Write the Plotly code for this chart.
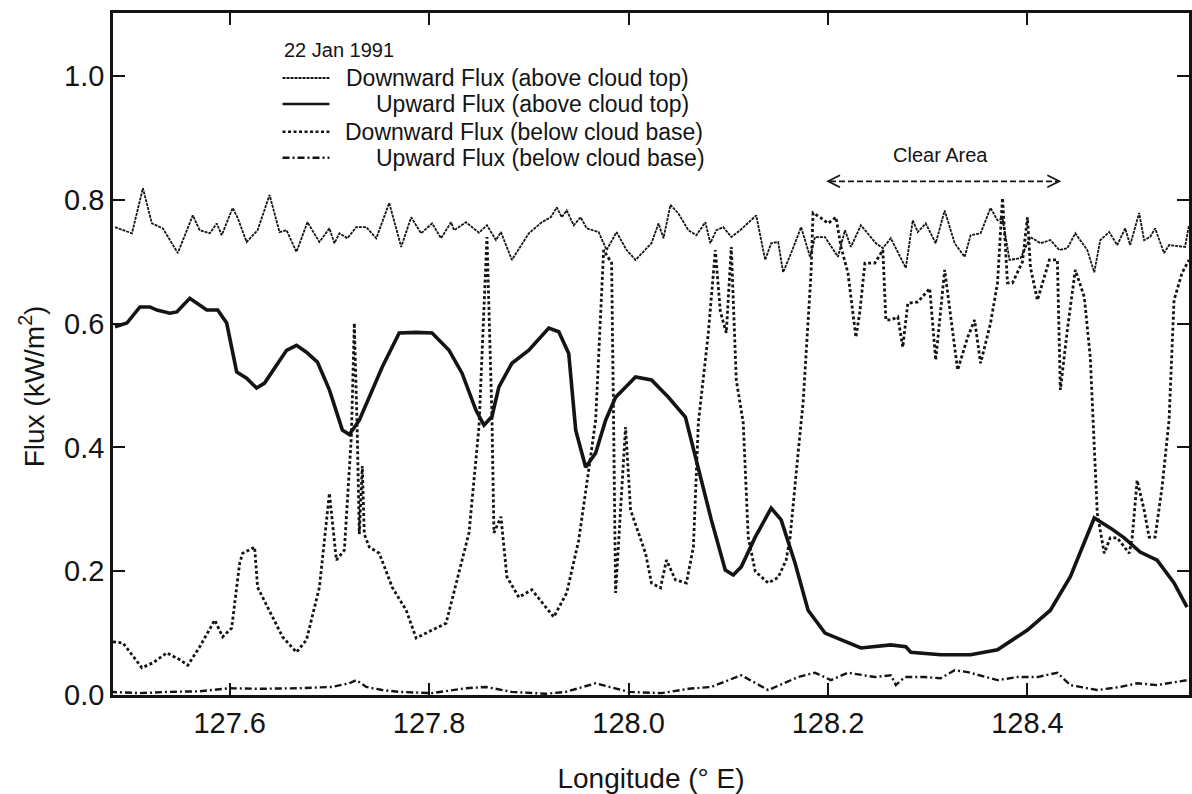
import plotly.graph_objects as go

# ---- data: longitude (deg E) and flux (kW/m^2) for each trace ----
down_above_lon = [127.485, 127.502, 127.513, 127.522, 127.533, 127.548, 127.563, 127.570, 127.580, 127.587,
                  127.592, 127.603, 127.608, 127.617, 127.628, 127.640, 127.650, 127.657, 127.667, 127.678,
                  127.690, 127.700, 127.705, 127.710, 127.718, 127.727, 127.737, 127.747, 127.760, 127.772,
                  127.782, 127.792, 127.803, 127.812, 127.822, 127.825, 127.837, 127.850, 127.858, 127.867,
                  127.872, 127.883, 127.900, 127.913, 127.922, 127.928, 127.933, 127.938, 127.945, 127.952,
                  127.958, 127.970, 127.978, 127.988, 127.998, 128.007, 128.023, 128.030, 128.035, 128.042,
                  128.050, 128.060, 128.068, 128.077, 128.082, 128.088, 128.095, 128.103, 128.112, 128.128,
                  128.137, 128.143, 128.150, 128.155, 128.163, 128.173, 128.182, 128.187, 128.197, 128.210,
                  128.217, 128.223, 128.233, 128.240, 128.248, 128.255, 128.263, 128.278, 128.285, 128.290,
                  128.298, 128.308, 128.317, 128.327, 128.337, 128.343, 128.353, 128.363, 128.370, 128.375,
                  128.382, 128.393, 128.403, 128.413, 128.423, 128.432, 128.440, 128.448, 128.460, 128.467,
                  128.473, 128.482, 128.490, 128.498, 128.503, 128.512, 128.517, 128.523, 128.528, 128.537,
                  128.542, 128.558, 128.562]
down_above_flux = [0.756, 0.746, 0.819, 0.762, 0.754, 0.714, 0.775, 0.751, 0.746, 0.762,
                   0.743, 0.787, 0.771, 0.732, 0.751, 0.808, 0.748, 0.751, 0.716, 0.764,
                   0.732, 0.754, 0.730, 0.746, 0.738, 0.756, 0.756, 0.738, 0.795, 0.724,
                   0.772, 0.746, 0.762, 0.738, 0.764, 0.751, 0.764, 0.747, 0.759, 0.735,
                   0.748, 0.703, 0.746, 0.764, 0.772, 0.788, 0.772, 0.783, 0.759, 0.772,
                   0.754, 0.748, 0.719, 0.748, 0.719, 0.703, 0.730, 0.762, 0.738, 0.792,
                   0.778, 0.751, 0.743, 0.764, 0.730, 0.751, 0.756, 0.740, 0.751, 0.775,
                   0.703, 0.730, 0.732, 0.683, 0.714, 0.756, 0.708, 0.740, 0.740, 0.708,
                   0.751, 0.724, 0.759, 0.746, 0.730, 0.722, 0.738, 0.690, 0.767, 0.748,
                   0.762, 0.730, 0.783, 0.730, 0.708, 0.743, 0.746, 0.787, 0.767, 0.770,
                   0.703, 0.706, 0.740, 0.730, 0.735, 0.719, 0.722, 0.746, 0.719, 0.683,
                   0.735, 0.748, 0.727, 0.754, 0.727, 0.779, 0.735, 0.740, 0.754, 0.714,
                   0.727, 0.724, 0.759]

up_above_lon = [127.485, 127.497, 127.510, 127.520, 127.527, 127.540, 127.547, 127.560, 127.577, 127.588,
                127.597, 127.607, 127.617, 127.627, 127.635, 127.657, 127.667, 127.677, 127.688, 127.700,
                127.713, 127.720, 127.730, 127.753, 127.770, 127.787, 127.803, 127.820, 127.833, 127.847,
                127.855, 127.863, 127.870, 127.883, 127.900, 127.920, 127.930, 127.940, 127.947, 127.957,
                127.967, 127.977, 127.987, 128.007, 128.023, 128.040, 128.057, 128.070, 128.083, 128.097,
                128.105, 128.113, 128.127, 128.143, 128.153, 128.167, 128.180, 128.197, 128.217, 128.233,
                128.263, 128.278, 128.283, 128.313, 128.343, 128.370, 128.400, 128.423, 128.443, 128.457,
                128.467, 128.483, 128.497, 128.513, 128.530, 128.547, 128.560]
up_above_flux = [0.595, 0.601, 0.627, 0.627, 0.622, 0.617, 0.619, 0.641, 0.622, 0.622,
                 0.601, 0.522, 0.512, 0.496, 0.504, 0.557, 0.565, 0.554, 0.538, 0.493,
                 0.428, 0.421, 0.444, 0.530, 0.585, 0.586, 0.585, 0.557, 0.520, 0.460,
                 0.436, 0.450, 0.498, 0.536, 0.557, 0.593, 0.587, 0.552, 0.428, 0.368,
                 0.391, 0.444, 0.481, 0.514, 0.509, 0.481, 0.449, 0.363, 0.283, 0.202,
                 0.194, 0.207, 0.255, 0.302, 0.283, 0.213, 0.137, 0.100, 0.086, 0.076,
                 0.081, 0.078, 0.069, 0.065, 0.065, 0.073, 0.105, 0.137, 0.191, 0.246,
                 0.286, 0.270, 0.254, 0.231, 0.218, 0.181, 0.142]

down_below_lon = [127.483, 127.493, 127.512, 127.523, 127.537, 127.550, 127.558, 127.570, 127.585, 127.593,
                  127.602, 127.610, 127.613, 127.625, 127.628, 127.643, 127.653, 127.667, 127.677, 127.690,
                  127.700, 127.707, 127.715, 127.722, 127.725, 127.728, 127.730, 127.733, 127.735, 127.740,
                  127.750, 127.763, 127.777, 127.787, 127.817, 127.840, 127.850, 127.858, 127.863, 127.865,
                  127.872, 127.878, 127.890, 127.903, 127.925, 127.938, 127.950, 127.960, 127.967, 127.975,
                  127.983, 127.985, 127.987, 127.992, 127.997, 128.002, 128.010, 128.017, 128.023, 128.032,
                  128.038, 128.047, 128.058, 128.065, 128.070, 128.080, 128.087, 128.092, 128.098, 128.103,
                  128.108, 128.115, 128.120, 128.127, 128.140, 128.150, 128.158, 128.162, 128.170, 128.175,
                  128.183, 128.185, 128.192, 128.200, 128.208, 128.213, 128.220, 128.228, 128.232, 128.237,
                  128.247, 128.255, 128.258, 128.263, 128.270, 128.275, 128.280, 128.290, 128.302, 128.308,
                  128.317, 128.330, 128.340, 128.347, 128.353, 128.363, 128.370, 128.375, 128.380, 128.385,
                  128.395, 128.400, 128.403, 128.410, 128.422, 128.430, 128.433, 128.440, 128.448, 128.457,
                  128.463, 128.467, 128.470, 128.477, 128.483, 128.490, 128.502, 128.505, 128.510, 128.517,
                  128.522, 128.528, 128.535, 128.542, 128.547, 128.555, 128.562]
down_below_flux = [0.086, 0.084, 0.044, 0.052, 0.068, 0.057, 0.048, 0.078, 0.121, 0.094,
                   0.108, 0.213, 0.229, 0.239, 0.174, 0.126, 0.094, 0.069, 0.089, 0.174,
                   0.326, 0.218, 0.234, 0.417, 0.601, 0.420, 0.260, 0.370, 0.260, 0.239,
                   0.229, 0.174, 0.137, 0.092, 0.116, 0.262, 0.433, 0.740, 0.450, 0.262,
                   0.288, 0.191, 0.158, 0.170, 0.126, 0.165, 0.250, 0.363, 0.444, 0.719,
                   0.698, 0.440, 0.165, 0.300, 0.433, 0.299, 0.262, 0.229, 0.181, 0.173,
                   0.218, 0.186, 0.181, 0.239, 0.440, 0.585, 0.719, 0.620, 0.585, 0.724,
                   0.509, 0.440, 0.255, 0.200, 0.181, 0.190, 0.218, 0.255, 0.391, 0.472,
                   0.682, 0.779, 0.772, 0.762, 0.772, 0.724, 0.682, 0.578, 0.620, 0.698,
                   0.698, 0.719, 0.606, 0.606, 0.611, 0.562, 0.633, 0.635, 0.657, 0.541,
                   0.687, 0.525, 0.578, 0.606, 0.536, 0.601, 0.666, 0.803, 0.666, 0.666,
                   0.700, 0.772, 0.691, 0.638, 0.703, 0.703, 0.493, 0.590, 0.687, 0.643,
                   0.546, 0.401, 0.294, 0.229, 0.254, 0.254, 0.229, 0.254, 0.347, 0.299,
                   0.255, 0.255, 0.336, 0.444, 0.638, 0.682, 0.703]

up_below_lon = [127.480, 127.510, 127.537, 127.570, 127.600, 127.630, 127.670, 127.703, 127.720, 127.727,
                127.737, 127.753, 127.770, 127.803, 127.837, 127.857, 127.883, 127.917, 127.937, 127.967,
                128.000, 128.033, 128.060, 128.083, 128.113, 128.140, 128.170, 128.187, 128.203, 128.220,
                128.247, 128.263, 128.268, 128.277, 128.297, 128.313, 128.327, 128.340, 128.370, 128.390,
                128.410, 128.430, 128.443, 128.470, 128.493, 128.510, 128.530, 128.560]
up_below_flux = [0.005, 0.003, 0.005, 0.006, 0.011, 0.010, 0.011, 0.013, 0.019, 0.024,
                 0.013, 0.008, 0.005, 0.003, 0.011, 0.013, 0.005, 0.002, 0.005, 0.019,
                 0.005, 0.003, 0.010, 0.013, 0.032, 0.008, 0.029, 0.036, 0.024, 0.036,
                 0.029, 0.032, 0.016, 0.029, 0.029, 0.027, 0.040, 0.037, 0.024, 0.029,
                 0.029, 0.036, 0.016, 0.008, 0.013, 0.019, 0.016, 0.024]

x_ticks = [127.6, 127.8, 128.0, 128.2, 128.4]
x_tick_text = ["127.6", "127.8", "128.0", "128.2", "128.4"]
y_ticks = [0.0, 0.2, 0.4, 0.6, 0.8, 1.0]
y_tick_text = ["0.0", "0.2", "0.4", "0.6", "0.8", "1.0"]

series_names = ["Downward Flux (above cloud top)", "Upward Flux (above cloud top)",
                "Downward Flux (below cloud base)", "Upward Flux (below cloud base)"]

INK = "#141414"
FONT = "Liberation Sans, Arial, sans-serif"

styles = [
    dict(color=INK, width=1.8, dash="3px,1px"),
    dict(color=INK, width=3.6),
    dict(color=INK, width=2.8, dash="3px,2.5px"),
    dict(color=INK, width=2.4, dash="7px,3px,2px,3px"),
]

fig = go.Figure()
for name, xs, ys, st in zip(series_names,
                            [down_above_lon, up_above_lon, down_below_lon, up_below_lon],
                            [down_above_flux, up_above_flux, down_below_flux, up_below_flux],
                            styles):
    fig.add_trace(go.Scatter(x=xs, y=ys, mode="lines", name=name, line=st,
                             showlegend=False, hoverinfo="x+y+name"))

# ---- hand-laid key in the upper-left of the panel ----
key_rows_y = [0.997, 0.955, 0.910, 0.868]
key_text_x = [127.715, 127.745, 127.714, 127.745]
shapes = []
annotations = [dict(x=127.652, y=1.042, xref="x", yref="y", text="22 Jan 1991",
                    showarrow=False, xanchor="left", yanchor="middle",
                    font=dict(family=FONT, size=20, color=INK))]
for name, ky, kx, st in zip(series_names, key_rows_y, key_text_x, styles):
    shapes.append(dict(type="line", xref="x", yref="y", x0=127.653, x1=127.700, y0=ky, y1=ky,
                       line=dict(color=st["color"], width=min(st["width"], 2.4),
                                 dash=st.get("dash", "solid"))))
    annotations.append(dict(x=kx, y=ky, xref="x", yref="y", text=name, showarrow=False,
                            xanchor="left", yanchor="middle",
                            font=dict(family=FONT, size=23, color=INK)))

# ---- "Clear Area" span marker: dashed line with open chevron heads ----
clear_y = 0.830
clear_x0, clear_x1 = 128.200, 128.432
shapes.append(dict(type="line", xref="x", yref="y", x0=clear_x0 + 0.002, x1=clear_x1 - 0.002,
                   y0=clear_y, y1=clear_y, line=dict(color=INK, width=1.7, dash="6px,3px")))
for anchor, path in [(clear_x0, "M 12,6 L 0,0 L 12,-6"), (clear_x1, "M -12,6 L 0,0 L -12,-6")]:
    shapes.append(dict(type="path", xref="x", yref="y", xsizemode="pixel", ysizemode="pixel",
                       xanchor=anchor, yanchor=clear_y, path=path,
                       line=dict(color=INK, width=1.7)))
annotations.append(dict(x=(clear_x0 + clear_x1) / 2 - 0.003, y=0.872, xref="x", yref="y",
                        text="Clear Area", showarrow=False, xanchor="center", yanchor="middle",
                        font=dict(family=FONT, size=20, color=INK)))

# y-axis title, set a little below the panel centre
annotations.append(dict(x=-0.075, y=0.453, xref="paper", yref="paper",
                        text="Flux (kW/m<sup>2</sup>)", textangle=-90, showarrow=False,
                        xanchor="center", yanchor="middle",
                        font=dict(family=FONT, size=28, color=INK)))

fig.update_layout(
    width=1192, height=794,
    margin=dict(l=113, r=0, t=13, b=99),
    paper_bgcolor="white", plot_bgcolor="white",
    font=dict(family=FONT, color=INK),
    shapes=shapes, annotations=annotations,
)
fig.update_xaxes(
    range=[127.483, 128.562], tickvals=x_ticks, ticktext=x_tick_text,
    ticks="inside", ticklen=12, tickwidth=2, tickcolor=INK,
    showline=True, linewidth=2.5, linecolor=INK, mirror="ticks",
    showgrid=False, zeroline=False,
    tickfont=dict(family=FONT, size=29, color=INK),
    title=dict(text="Longitude (° E)", font=dict(family=FONT, size=28, color=INK), standoff=32),
)
fig.update_yaxes(
    range=[0, 1.102], tickvals=y_ticks, ticktext=y_tick_text,
    ticks="inside", ticklen=12, tickwidth=2, tickcolor=INK,
    showline=True, linewidth=2.5, linecolor=INK, mirror="ticks",
    showgrid=False, zeroline=False,
    tickfont=dict(family=FONT, size=29, color=INK),
)

fig.write_html("out.html")
